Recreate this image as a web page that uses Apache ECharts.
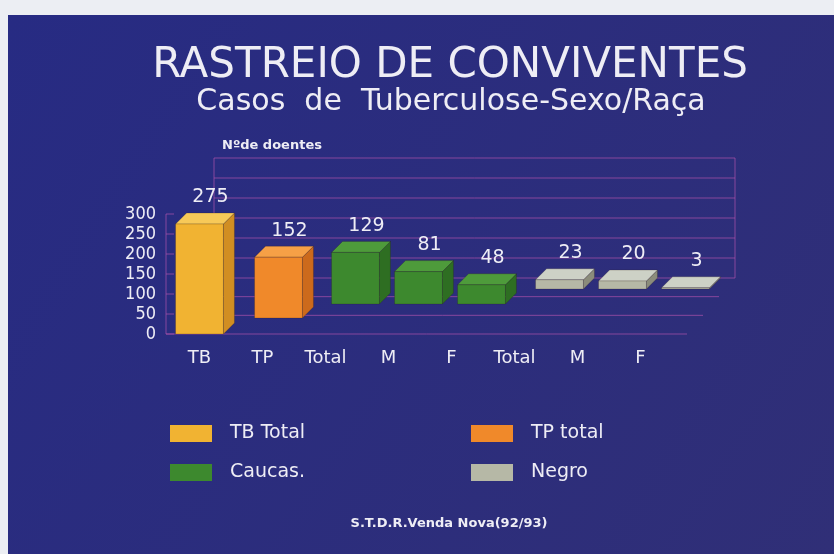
<!DOCTYPE html>
<html><head><meta charset="utf-8">
<script src="https://cdn.jsdelivr.net/npm/echarts@6/dist/echarts.min.js"></script>
<style>html,body{margin:0;padding:0;background:#eceef3;}#c{width:834px;height:554px;}</style>
</head><body><div id="c"></div>
<script>
// ---- data ----
const categories = ['TB', 'TP', 'Total', 'M', 'F', 'Total', 'M', 'F'];
const tbTotal = [275];
const tpTotal = [152];
const caucas = [129, 81, 48];
const negro = [23, 20, 3];
const groupNames = ['TB Total', 'TP total', 'Caucas.', 'Negro'];
const yTicks = [0, 50, 100, 150, 200, 250, 300];

// ---- styling ----
const FONT = 'DejaVu Sans';
const TXT = '#eeedf5';
const wallColor = 'rgba(170,80,170,0.72)';
const palette = [
  { front: '#f1b332', side: '#d18e22', top: '#f7c958' },
  { front: '#f0892a', side: '#cc6a1c', top: '#f6a046' },
  { front: '#3d892e', side: '#2e6e22', top: '#4e9b3b' },
  { front: '#b6b8a6', side: '#8b8c7b', top: '#cdd1c6' }
];
const depth = [0, 16, 30, 45];   // oblique offset of each group row
const BOX = 11;                  // box thickness
const BACK = { dx: 48, dy: 56 }; // back wall offset

function boxRender(g) {
  return function (params, api) {
    const x = api.value(0), v = api.value(1);
    const base = api.coord([x, 0]);
    const top = api.coord([x, v]);
    const bw = api.size([1, 0])[0] * 0.76;
    const d = depth[g];
    const x0 = base[0] - bw / 2 + d, x1 = base[0] + bw / 2 + d;
    const yb = base[1] - d, yt = top[1] - d;
    const c = palette[g];
    const stroke = 'rgba(40,20,10,0.35)';
    return {
      type: 'group', children: [
        { type: 'polygon', shape: { points: [[x1, yb], [x1 + BOX, yb - BOX], [x1 + BOX, yt - BOX], [x1, yt]] }, style: { fill: c.side, stroke: stroke, lineWidth: 0.6 } },
        { type: 'polygon', shape: { points: [[x0, yt], [x1, yt], [x1 + BOX, yt - BOX], [x0 + BOX, yt - BOX]] }, style: { fill: c.top, stroke: stroke, lineWidth: 0.6 } },
        { type: 'rect', shape: { x: x0, y: yt, width: bw, height: yb - yt }, style: { fill: c.front, stroke: stroke, lineWidth: 0.6 } },
        { type: 'text', x: (x0 + x1) / 2 + BOX, y: yt - BOX - 6, style: { text: String(v), align: 'center', verticalAlign: 'bottom', fill: TXT, fontSize: 19, fontFamily: FONT } }
      ]
    };
  };
}

function wallRender(params, api) {
  const cs = params.coordSys;
  const x0 = cs.x - 2, x1 = cs.x + cs.width + 15;
  const yFloor = api.coord([0, 0])[1];
  const yTop = api.coord([0, yTicks[yTicks.length - 1]])[1];
  const st = { stroke: wallColor, lineWidth: 1 };
  const els = [];
  yTicks.forEach(function (t) {
    const y = api.coord([0, t])[1];
    els.push({ type: 'line', shape: { x1: x0 + BACK.dx, y1: y - BACK.dy, x2: x1 + BACK.dx, y2: y - BACK.dy }, style: st });
    els.push({ type: 'line', shape: { x1: x0, y1: y, x2: x0 + 8, y2: y }, style: st });
  });
  for (let k = 0; k < 3; k++) {
    const ox = BACK.dx * k / 3, oy = BACK.dy * k / 3;
    els.push({ type: 'line', shape: { x1: x0 + ox, y1: yFloor - oy, x2: x1 + ox, y2: yFloor - oy }, style: st });
  }
  els.push({ type: 'line', shape: { x1: x0, y1: yFloor, x2: x0, y2: yTop }, style: st });
  els.push({ type: 'line', shape: { x1: x0 + BACK.dx, y1: yFloor - BACK.dy, x2: x0 + BACK.dx, y2: yTop - BACK.dy }, style: st });
  els.push({ type: 'line', shape: { x1: x1 + BACK.dx, y1: yFloor - BACK.dy, x2: x1 + BACK.dx, y2: yTop - BACK.dy }, style: st });
  return { type: 'group', children: els };
}

const groups = [tbTotal, tpTotal, caucas, negro];
const series = [{ type: 'custom', name: '_wall', silent: true, z: 1, data: [[0, 0]], renderItem: wallRender }];
let start = 0;
groups.forEach(function (vals, g) {
  const data = vals.map(function (v, i) { return [start + i, v]; });
  start += vals.length;
  series.push({ type: 'custom', name: groupNames[g], z: 10 - g, itemStyle: { color: palette[g].front }, encode: { x: 0, y: 1 }, data: data, renderItem: boxRender(g) });
});

const legendBase = {
  orient: 'vertical', icon: 'rect', itemWidth: 42, itemHeight: 17, itemGap: 20, selectedMode: false,
  textStyle: { color: TXT, fontSize: 19, fontFamily: FONT, lineHeight: 17, padding: [0, 0, 0, 13] }
};

const chart = echarts.init(document.getElementById('c'), null, { renderer: 'canvas' });
chart.setOption({
  animation: false,
  backgroundColor: '#eceef3',
  graphic: [
    { type: 'rect', z: -10, shape: { x: 8, y: 15, width: 826, height: 539 },
      style: { fill: { type: 'linear', x: 0, y: 0, x2: 1, y2: 1, colorStops: [{ offset: 0, color: '#272b83' }, { offset: 1, color: '#302f77' }] } } }
  ],
  title: [
    { text: 'RASTREIO DE CONVIVENTES', left: 450, top: 45, textAlign: 'center', padding: 0, textStyle: { color: TXT, fontSize: 42, fontWeight: 'normal', fontFamily: FONT } },
    { text: 'Casos  de  Tuberculose-Sexo/Raça', left: 451, top: 87, textAlign: 'center', padding: 0, textStyle: { color: TXT, fontSize: 30, fontWeight: 'normal', fontFamily: FONT } },
    { text: 'Nºde doentes', left: 222, top: 139, padding: 0, textStyle: { color: TXT, fontSize: 13, fontWeight: 'bold', fontFamily: FONT } },
    { text: 'S.T.D.R.Venda Nova(92/93)', left: 449, top: 517, textAlign: 'center', padding: 0, textStyle: { color: TXT, fontSize: 13, fontWeight: 'bold', fontFamily: FONT } }
  ],
  legend: [
    Object.assign({ left: 165, top: 419, data: ['TB Total', 'Caucas.'] }, legendBase),
    Object.assign({ left: 466, top: 419, data: ['TP total', 'Negro'] }, legendBase)
  ],
  grid: { left: 168, right: 162, top: 214, bottom: 220, containLabel: false },
  xAxis: {
    type: 'category', data: categories,
    axisLine: { show: false }, axisTick: { show: false },
    axisLabel: { color: TXT, fontSize: 18, fontFamily: FONT, margin: 15, interval: 0 }
  },
  yAxis: {
    type: 'value', min: 0, max: 300, interval: 50,
    splitLine: { show: false }, axisLine: { show: false }, axisTick: { show: false },
    axisLabel: { color: TXT, fontSize: 18, fontFamily: '"DejaVu Sans Condensed", "Liberation Sans", sans-serif', margin: 12 }
  },
  series: series
});
</script></body></html>
